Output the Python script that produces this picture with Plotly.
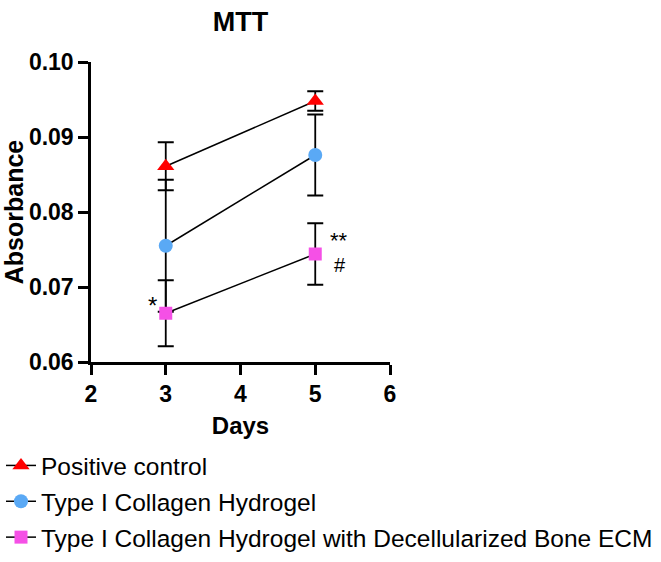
import plotly.graph_objects as go

days = [3, 5]
series_names = ["Positive control", "Type I Collagen Hydrogel",
                "Type I Collagen Hydrogel with Decellularized Bone ECM"]
pos_mean = [0.0861, 0.0948]
pos_err = [0.0032, 0.0013]
col_mean = [0.0755, 0.0876]
col_err = [0.0088, 0.0054]
ecm_mean = [0.0665, 0.0744]
ecm_err = [0.0044, 0.0041]

y_ticks = [0.06, 0.07, 0.08, 0.09, 0.10]
x_ticks = [2, 3, 4, 5, 6]

FONT = "Arial, 'Liberation Sans', sans-serif"

styles = [
    dict(symbol="triangle-up", color="#FF0000", size=15),
    dict(symbol="circle", color="#5AA9F5", size=14),
    dict(symbol="square", color="#F550E6", size=13),
]
means = [pos_mean, col_mean, ecm_mean]
errs = [pos_err, col_err, ecm_err]

fig = go.Figure()
for i, (name, m, e, s) in enumerate(zip(series_names, means, errs, styles)):
    fig.add_trace(go.Scatter(
        x=days, y=m, name=name, mode="lines+markers",
        legendgroup=f"g{i}",
        line=dict(color="black", width=1.5),
        marker=dict(symbol=s["symbol"], color=s["color"], size=s["size"], line=dict(width=0)),
        error_y=dict(type="data", array=e, visible=True, color="black", thickness=1.8, width=8),
    ))

# significance marks attached to the ECM points
fig.add_annotation(x=days[0], y=ecm_mean[0], text="*", showarrow=False, xshift=-13, yshift=8,
                   font=dict(family=FONT, size=24, color="black"))
fig.add_annotation(x=days[1], y=ecm_mean[1], text="**", showarrow=False, xshift=24, yshift=14,
                   font=dict(family=FONT, size=22, color="black"))
fig.add_annotation(x=days[1], y=ecm_mean[1], text="#", showarrow=False, xshift=25, yshift=-11,
                   font=dict(family=FONT, size=20, color="black"))

PL, PR, PT, PB = 91, 390, 62, 362
W, H = 661, 562

fig.update_layout(
    template="none",
    width=W, height=H,
    margin=dict(l=PL, r=W - PR, t=PT, b=H - PB, autoexpand=False),
    plot_bgcolor="white", paper_bgcolor="white",
    title=dict(text="<b>MTT</b>", x=(PL + PR) / 2 / W, xanchor="center", y=1 - 22 / H, yanchor="middle",
               font=dict(family=FONT, size=27, color="black")),
    font=dict(family=FONT, color="black"),
    showlegend=True,
    legend=dict(x=(1 - PL) / (PR - PL), y=(PB - 443) / (PB - PT), xanchor="left", yanchor="top",
                font=dict(family=FONT, size=24.5, color="black"), tracegroupgap=1,
                bgcolor="rgba(0,0,0,0)", borderwidth=0),
)
fig.update_xaxes(
    range=[2, 6], tickvals=x_ticks, ticktext=[str(t) for t in x_ticks],
    showline=True, linecolor="black", linewidth=2.5, showgrid=False, zeroline=False, automargin=False,
    ticks="outside", ticklen=10, tickwidth=2.5, tickcolor="black",
    tickfont=dict(family=FONT, size=23, color="black", weight="bold"),
    title=dict(text="<b>Days</b>", font=dict(family=FONT, size=24, color="black"), standoff=11),
)
fig.update_yaxes(
    range=[0.06, 0.10], tickvals=y_ticks, ticktext=[f"{t:.2f}" for t in y_ticks],
    showline=True, linecolor="black", linewidth=2.5, showgrid=False, zeroline=False, automargin=False,
    ticks="outside", ticklen=10, tickwidth=2.5, tickcolor="black",
    tickfont=dict(family=FONT, size=23, color="black", weight="bold"),
    title=dict(text="<b>Absorbance</b>", font=dict(family=FONT, size=25, color="black"), standoff=5),
)

fig.write_html("out.html")
